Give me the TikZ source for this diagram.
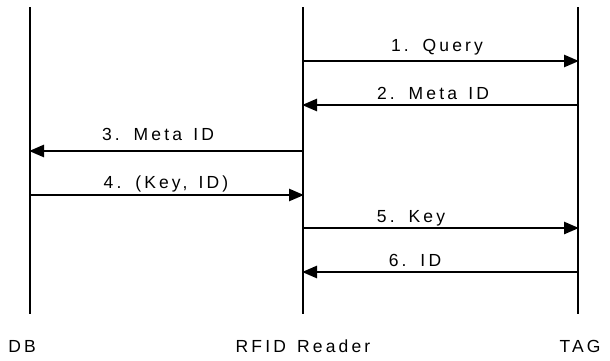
\documentclass[tikz,border=0pt]{standalone}
\usepackage{fontspec}
\setmainfont[LetterSpace=18,WordSpace=1.4]{Liberation Sans}
\usetikzlibrary{arrows.meta}
\begin{document}
\begin{tikzpicture}[x=1pt,y=-1pt,
  lifeline/.style={line width=1.8pt},
  msg/.style={line width=2.6pt,-{Triangle[length=15pt,width=12pt]},shorten >=-1pt},
  msglabel/.style={font=\fontsize{17.5}{20}\selectfont,inner sep=0pt,anchor=base},
  actor/.style={font=\fontsize{17.5}{20}\selectfont,inner sep=0pt,anchor=base}]
\useasboundingbox (0,0) rectangle (610,360);
% lifelines
\coordinate (dbtop) at (30,7);   \coordinate (dbbot) at (30,314);
\coordinate (rdtop) at (303,7);  \coordinate (rdbot) at (303,314);
\coordinate (tgtop) at (578,7);  \coordinate (tgbot) at (578,314);
\draw[lifeline] (dbtop) -- (dbbot);
\draw[lifeline] (rdtop) -- (rdbot);
\draw[lifeline] (tgtop) -- (tgbot);
% actor names
\node[actor] (db) at (22,352) {DB};
\node[actor] (rd) at (303,352) {RFID Reader};
\node[actor] (tg) at (580,352) {TAG};
% message end points
\foreach \n/\y in {1/61,2/105,3/151,4/195,5/228,6/272}{
  \coordinate (d\n) at (30,\y);
  \coordinate (r\n) at (303,\y);
  \coordinate (t\n) at (578,\y);
}
% messages
\draw[msg] (r1) -- (t1);
\draw[msg] (t2) -- (r2);
\draw[msg] (r3) -- (d3);
\draw[msg] (d4) -- (r4);
\draw[msg] (r5) -- (t5);
\draw[msg] (t6) -- (r6);
% message labels
\node[msglabel] (l1) at (437,51) {1. Query};
\node[msglabel] (l2) at (433,99) {2. Meta ID};
\node[msglabel] (l3) at (158,140) {3. Meta ID};
\node[msglabel] (l4) at (166,188) {4. (Key, ID)};
\node[msglabel] (l5) at (411,222) {5. Key};
\node[msglabel] (l6) at (415,266) {6. ID};
\end{tikzpicture}
\end{document}
